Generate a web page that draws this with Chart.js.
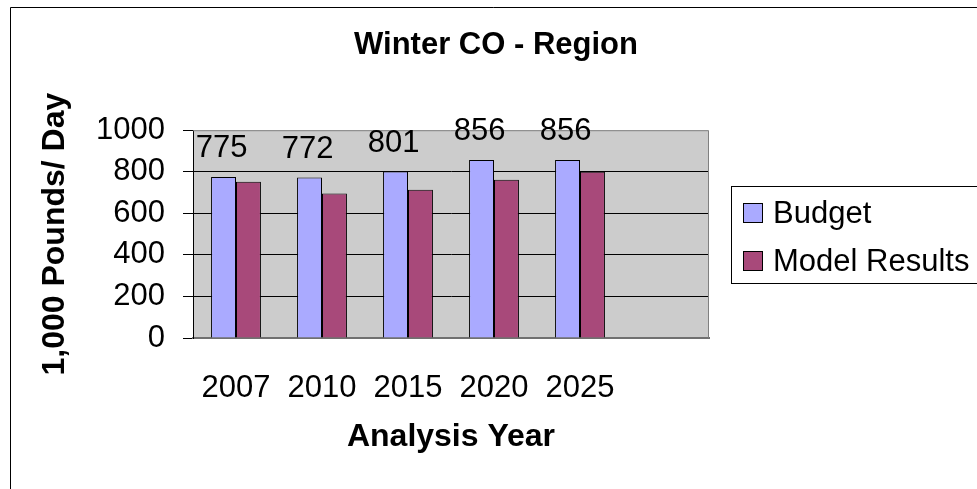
<!DOCTYPE html>
<html>
<head>
<meta charset="utf-8">
<script src="https://cdn.jsdelivr.net/npm/chart.js@4.4.0/dist/chart.umd.min.js"></script>
<style>
  html, body { margin: 0; padding: 0; background: #fff; }
  #marco { width: 977px; height: 489px; overflow: hidden; }
  canvas { display: block; }
</style>
</head>
<body>
<div id="marco"><canvas id="graficoCO"></canvas></div>
<script>
const categorias = ["2007", "2010", "2015", "2020", "2025", ""];
const budget = [775, 772, 801, 856, 856];
const modelResults = [752, 695, 714, 762, 800];
const ticksY = [0, 200, 400, 600, 800, 1000];

const W = 977, H = 489;
const fuente = "'Liberation Sans', Arial, sans-serif";
const tam = 31;

const canvas = document.getElementById("graficoCO");
canvas.width = W;
canvas.height = H;
canvas.style.width = W + "px";
canvas.style.height = H + "px";

const fondo = {
  id: "fondo",
  beforeDraw(chart) {
    const { ctx, chartArea: ca } = chart;
    ctx.save();
    ctx.fillStyle = "#fff";
    ctx.fillRect(0, 0, W, H);
    ctx.strokeStyle = "#000";
    ctx.lineWidth = 1;
    ctx.beginPath();
    ctx.moveTo(10.5, H);
    ctx.lineTo(10.5, 7.5);
    ctx.lineTo(W, 7.5);
    ctx.stroke();
    ctx.fillStyle = "#CCCCCC";
    ctx.fillRect(ca.left, ca.top, ca.right - ca.left, ca.bottom - ca.top);
    ctx.restore();
  },
  afterDraw(chart) {
    const { ctx, chartArea: ca } = chart;
    ctx.save();
    // borde gris del área de trazado
    ctx.strokeStyle = "#808080";
    ctx.lineWidth = 1;
    ctx.beginPath();
    ctx.moveTo(ca.left, ca.top + 0.5);
    ctx.lineTo(ca.right - 0.5, ca.top + 0.5);
    ctx.lineTo(ca.right - 0.5, ca.bottom);
    ctx.stroke();

    // etiquetas sobre Budget
    const meta = chart.getDatasetMeta(0);
    ctx.fillStyle = "#000";
    ctx.font = tam + "px " + fuente;
    ctx.textAlign = "center";
    ctx.textBaseline = "alphabetic";
    meta.data.forEach((barra, i) => {
      ctx.fillText(String(budget[i]), barra.x - 2, barra.y - 20);
    });

    // leyenda
    const cy = (ca.top + ca.bottom) / 2;
    const bx = ca.right + 22;
    ctx.strokeStyle = "#000";
    ctx.strokeRect(Math.round(bx) + 0.5, Math.round(cy - 48) + 0.5, W, 97);
    ctx.textAlign = "left";
    ctx.textBaseline = "middle";
    chart.data.datasets.forEach((ds, i) => {
      const y = Math.round(cy - 21 + i * 48);
      ctx.fillStyle = ds.backgroundColor;
      ctx.fillRect(bx + 12, y - 10, 20, 20);
      ctx.strokeStyle = "#000";
      ctx.strokeRect(bx + 12 + 0.5, y - 10 + 0.5, 19, 19);
      ctx.fillStyle = "#000";
      ctx.fillText(ds.label, bx + 42, y + 1);
    });
    ctx.restore();
  }
};

new Chart(canvas.getContext("2d"), {
  type: "bar",
  data: {
    labels: categorias,
    datasets: [
      { label: "Budget", data: budget, backgroundColor: "#AAAAFF", borderColor: "#000", borderWidth: 1 },
      { label: "Model Results", data: modelResults, backgroundColor: "#A8497A", borderColor: "#000", borderWidth: 1 }
    ]
  },
  plugins: [fondo],
  options: {
    responsive: false,
    animation: false,
    devicePixelRatio: 1,
    layout: { padding: { left: 15, top: 0, right: 0, bottom: 0 } },
    datasets: { bar: { categoryPercentage: 0.58, barPercentage: 1 } },
    plugins: {
      legend: { display: false },
      tooltip: { enabled: false },
      title: {
        display: true,
        text: "Winter CO - Region",
        color: "#000",
        font: { family: fuente, size: 31, weight: "bold", lineHeight: 1.2 },
        padding: { top: 27, bottom: 66 }
      }
    },
    scales: {
      x: {
        afterFit: s => { s.height = H - 338; },
        grid: { display: false, drawTicks: false },
        border: { display: true, color: "#707070", width: 2 },
        ticks: { color: "#000", font: { family: fuente, size: tam }, padding: 32, autoSkip: false, maxRotation: 0 },
        title: {
          display: true, text: "Analysis Year", color: "#000",
          font: { family: fuente, size: 32, weight: "bold", lineHeight: 1.2 },
          padding: { top: 0, bottom: 33 }
        }
      },
      y: {
        min: 0, max: 1000,
        afterBuildTicks: s => { s.ticks = ticksY.map(v => ({ value: v })); },
        afterFit: s => { s.width = 193 - 15; },
        grid: {
          color: c => (c.tick && (c.tick.value === 0 || c.tick.value === 1000)) ? "rgba(0,0,0,0)" : "#000",
          tickColor: "#000", tickLength: 10, lineWidth: 1
        },
        border: { color: "#000", width: 1 },
        ticks: { color: "#000", font: { family: fuente, size: tam }, padding: 18, callback: v => String(v) },
        title: {
          display: true, text: "1,000 Pounds/ Day", color: "#000",
          font: { family: fuente, size: 32, weight: "bold", lineHeight: 1.2 },
          padding: { top: 21, bottom: 0 }
        }
      },
      yDer: {
        type: "linear", position: "right",
        grid: { display: false, drawTicks: false },
        border: { display: false },
        ticks: { display: false },
        afterFit: s => { s.width = W - 709; }
      }
    }
  }
});
</script>
</body>
</html>
